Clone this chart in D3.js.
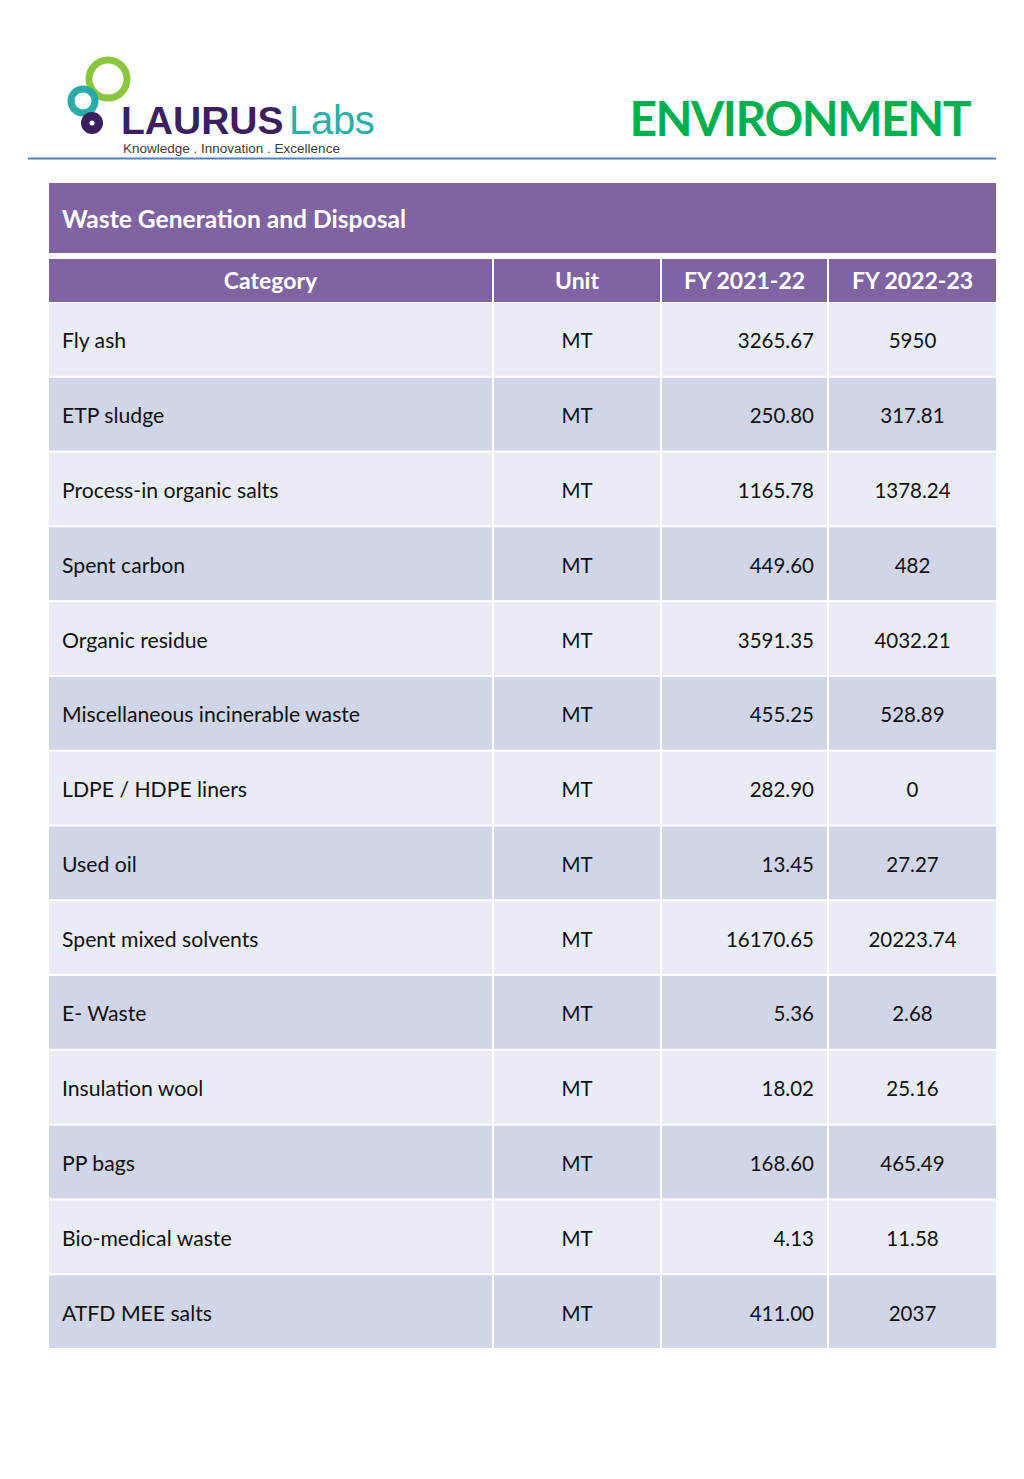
<!DOCTYPE html>
<html>
<head>
<meta charset="utf-8">
<script src="https://cdn.jsdelivr.net/npm/d3@7"></script>
<style>
body{margin:0;background:#fff;}
svg{display:block;font-family:Lato,"Open Sans",sans-serif;}
</style>
</head>
<body>
<svg width="1024" height="1479"></svg>
<script>
var title = "Waste Generation and Disposal"
var headers = ["Category", "Unit", "FY 2021-22", "FY 2022-23"]
var categories = ["Fly ash", "ETP sludge", "Process-in organic salts", "Spent carbon",
  "Organic residue", "Miscellaneous incinerable waste", "LDPE / HDPE liners", "Used oil",
  "Spent mixed solvents", "E- Waste", "Insulation wool", "PP bags", "Bio-medical waste",
  "ATFD MEE salts"]
var units = ["MT","MT","MT","MT","MT","MT","MT","MT","MT","MT","MT","MT","MT","MT"]
var fy2122 = ["3265.67","250.80","1165.78","449.60","3591.35","455.25","282.90","13.45",
  "16170.65","5.36","18.02","168.60","4.13","411.00"]
var fy2223 = ["5950","317.81","1378.24","482","4032.21","528.89","0","27.27",
  "20223.74","2.68","25.16","465.49","11.58","2037"]

var purple = "#8064a2"
var svg = d3.select("svg")

/* logo */
var logo = svg.append("g").attr("class", "logo")
logo.append("circle").attr("cx",108).attr("cy",79).attr("r",19)
  .attr("fill","none").attr("stroke","#8cc63f").attr("stroke-width",7)
logo.append("circle").attr("cx",83).attr("cy",101).attr("r",12)
  .attr("fill","none").attr("stroke","#1fa6a4").attr("stroke-width",7).attr("opacity",0.95)
logo.append("circle").attr("cx",92).attr("cy",123).attr("r",11).attr("fill","#3b1f5e")
logo.append("circle").attr("cx",92).attr("cy",123).attr("r",2.5).attr("fill","#fff")
logo.append("text").attr("x",121).attr("y",134)
  .attr("font-family","'Liberation Sans',Arial,sans-serif").attr("font-weight","bold")
  .attr("font-size",39).attr("letter-spacing",0).attr("fill","#3b1f5e").text("LAURUS")
logo.append("text").attr("x",289).attr("y",134)
  .attr("font-family","'Liberation Sans',Arial,sans-serif")
  .attr("font-size",40).attr("letter-spacing",-0.3).attr("fill","#2aaea7").text("Labs")
logo.append("text").attr("x",123).attr("y",153)
  .attr("font-family","'Liberation Sans',Arial,sans-serif")
  .attr("font-size",13.5).attr("fill","#3b3b3b")
  .text("Knowledge . Innovation . Excellence")

svg.append("text").attr("x",970).attr("y",136).attr("text-anchor","end")
  .attr("font-weight","bold").attr("font-size",48).attr("letter-spacing",-1.5)
  .attr("fill","#00b050").text("ENVIRONMENT")

svg.append("line").attr("x1",28).attr("x2",996).attr("y1",158.5).attr("y2",158.5)
  .attr("stroke","#4f81bd").attr("stroke-width",2)

/* table */
var colX = d3.scaleOrdinal().domain(headers).range([49, 494, 662, 829])
var colW = d3.scaleOrdinal().domain(headers).range([445, 168, 167, 169])
var y = d3.scaleBand().domain(d3.range(categories.length)).range([302, 1349]).paddingInner(0)

svg.append("rect").attr("x",49).attr("y",183).attr("width",947).attr("height",70).attr("fill",purple)
svg.append("text").attr("x",62).attr("y",228).attr("fill","#fff")
  .attr("font-weight","bold").attr("font-size",24.6).text(title)

var head = svg.append("g").attr("class","head")
head.selectAll("rect").data(headers).enter().append("rect")
  .attr("x", d => colX(d)).attr("y",259).attr("width", d => colW(d) - 2).attr("height",43)
  .attr("fill",purple)
head.selectAll("text").data(headers).enter().append("text")
  .attr("x", d => colX(d) + (colW(d) - 2)/2).attr("y",289).attr("text-anchor","middle")
  .attr("fill","#fff").attr("font-weight","bold").attr("font-size",23).text(d => d)

var rows = categories.map(function(c, i){
  return {i: i, cells: [c, units[i], fy2122[i], fy2223[i]]}
})

var row = svg.append("g").attr("class","rows").selectAll("g").data(rows).enter().append("g")

row.selectAll("rect").data(d => d.cells.map((v, k) => ({v: v, k: k, i: d.i}))).enter()
  .append("rect")
  .attr("x", d => colX(headers[d.k])).attr("y", d => y(d.i) + 1)
  .attr("width", d => colW(headers[d.k]) - 2).attr("height", y.bandwidth() - 2)
  .attr("fill", d => d.i % 2 == 0 ? "#e9ecf4" : "#d0d6e8")

row.selectAll("text").data(d => d.cells.map((v, k) => ({v: v, k: k, i: d.i}))).enter()
  .append("text")
  .attr("x", function(d){
    var h = headers[d.k]
    if (d.k == 0) return colX(h) + 13
    if (d.k == 2) return colX(h) + colW(h) - 15
    return colX(h) + (colW(h) - 2)/2
  })
  .attr("y", d => y(d.i) + y.bandwidth()/2 + 9)
  .attr("text-anchor", d => d.k == 0 ? "start" : d.k == 2 ? "end" : "middle")
  .attr("font-size", d => d.k == 0 ? 21.2 : 20.5).attr("fill","#111").text(d => d.v)
</script>
</body>
</html>
